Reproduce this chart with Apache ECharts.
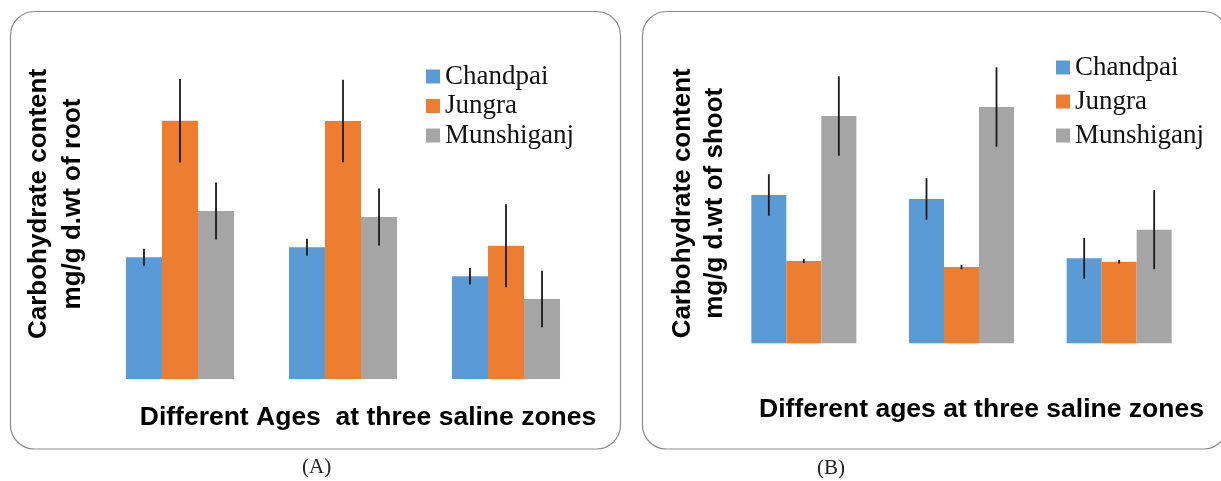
<!DOCTYPE html>
<html>
<head>
<meta charset="utf-8">
<script src="https://cdn.jsdelivr.net/npm/echarts@6/dist/echarts.min.js"></script>
<style>
html,body{margin:0;padding:0;background:#fff;}
#chart{width:1221px;height:481px;}
</style>
</head>
<body>
<div id="chart"></div>
<script>
// ---- data ----
const categories = ['Age 1', 'Age 2', 'Age 3'];
const seriesNames = ['Chandpai', 'Jungra', 'Munshiganj'];
// (A) root carbohydrate
const rootChandpai   = [12.17, 13.17, 10.27];
const rootJungra     = [25.83, 25.80, 13.33];
const rootMunshiganj = [16.80, 16.20, 8.00];
const rootChandpaiErr   = [0.85, 0.85, 0.83];
const rootJungraErr     = [4.17, 4.12, 4.15];
const rootMunshiganjErr = [2.85, 2.85, 2.83];
// (B) shoot carbohydrate
const shootChandpai   = [14.83, 14.43, 8.50];
const shootJungra     = [8.23, 7.63, 8.16];
const shootMunshiganj = [22.73, 23.63, 11.36];
const shootChandpaiErr   = [2.07, 2.08, 2.05];
const shootJungraErr     = [0.20, 0.22, 0.18];
const shootMunshiganjErr = [3.97, 3.97, 3.95];

const colors = ['#5B9BD5', '#ED7D31', '#A5A5A5'];
const GAP_A = 0.337, GAP_B = 0.334;

function errRenderer(idx, gap) {
  return function (params, api) {
    const cat = api.value(0), val = api.value(1), err = api.value(2);
    const band = api.size([1, 0])[0];
    const bw = band * (1 - gap) / 3;
    const c = api.coord([cat, val]);
    const x = c[0] + (idx - 1) * bw;
    const yTop = api.coord([cat, val + err])[1];
    const yBot = api.coord([cat, val - err])[1];
    return {
      type: 'line',
      shape: { x1: x, y1: yTop, x2: x, y2: yBot },
      style: { stroke: '#1a1a1a', lineWidth: 1.8 }
    };
  };
}

const rootVals = [rootChandpai, rootJungra, rootMunshiganj];
const rootErrs = [rootChandpaiErr, rootJungraErr, rootMunshiganjErr];
const shootVals = [shootChandpai, shootJungra, shootMunshiganj];
const shootErrs = [shootChandpaiErr, shootJungraErr, shootMunshiganjErr];

const series = [];
function addPanel(vals, errs, axisIdx, gap) {
  vals.forEach((v, i) => {
    series.push({
      type: 'bar', name: seriesNames[i], data: v,
      xAxisIndex: axisIdx, yAxisIndex: axisIdx,
      barGap: '0%', barCategoryGap: (gap * 100) + '%',
      itemStyle: { color: colors[i] },
      emphasis: { disabled: true }
    });
  });
  vals.forEach((v, i) => {
    series.push({
      type: 'custom', z: 5,
      xAxisIndex: axisIdx, yAxisIndex: axisIdx,
      data: v.map((val, k) => [k, val, errs[i][k]]),
      encode: { x: 0, y: 1 },
      renderItem: errRenderer(i, gap),
      silent: true
    });
  });
}
addPanel(rootVals, rootErrs, 0, GAP_A);
addPanel(shootVals, shootErrs, 1, GAP_B);

const hidden = { axisLine: { show: false }, axisTick: { show: false }, axisLabel: { show: false }, splitLine: { show: false } };
const nameFont = { fontFamily: 'Liberation Sans', fontWeight: 'bold', fontSize: 26, color: '#000' };
const xNameFont = { fontFamily: 'Liberation Sans', fontWeight: 'bold', fontSize: 26.5, color: '#000' };

const chart = echarts.init(document.getElementById('chart'), null, { renderer: 'canvas' });
chart.setOption({
  backgroundColor: '#fff',
  animation: false,
  grid: [
    { left: 98.5, right: 633.5, top: 29, bottom: 102 },
    { left: 725, right: 23, top: 63.3, bottom: 137.7 }
  ],
  xAxis: [
    Object.assign({ type: 'category', data: categories, gridIndex: 0,
      name: 'Different Ages  at three saline zones', nameLocation: 'middle', nameGap: 25,
      nameTextStyle: Object.assign({ padding: [0, 0, 0, 50] }, xNameFont) }, hidden),
    Object.assign({ type: 'category', data: categories, gridIndex: 1,
      name: 'Different ages at three saline zones', nameLocation: 'middle', nameGap: 53,
      nameTextStyle: Object.assign({ padding: [0, 0, 0, 40] }, xNameFont) }, hidden)
  ],
  yAxis: [
    Object.assign({ type: 'value', gridIndex: 0, min: 0, max: 35,
      name: 'Carbohydrate content\nmg/g d.wt of root', nameLocation: 'middle', nameRotate: 90, nameGap: 9,
      nameTextStyle: Object.assign({ lineHeight: 34, align: 'center' }, nameFont) }, hidden),
    Object.assign({ type: 'value', gridIndex: 1, min: 0, max: 28,
      name: 'Carbohydrate content\nmg/g d.wt of shoot', nameLocation: 'middle', nameRotate: 90, nameGap: -6,
      nameTextStyle: Object.assign({ lineHeight: 32, align: 'center' }, nameFont) }, hidden)
  ],
  legend: [
    { data: seriesNames, orient: 'vertical', left: 426, top: 63, padding: 0, itemWidth: 14, itemHeight: 14, itemGap: 2.5,
      icon: 'rect', selectedMode: false,
      textStyle: { fontFamily: 'Liberation Serif', fontSize: 27, color: '#111' } },
    { data: seriesNames, orient: 'vertical', left: 1056, top: 54, padding: 0, itemWidth: 14, itemHeight: 14, itemGap: 7,
      icon: 'rect', selectedMode: false,
      textStyle: { fontFamily: 'Liberation Serif', fontSize: 27, color: '#111' } }
  ],
  graphic: [
    { type: 'rect', silent: true, z: -1,
      shape: { x: 10.5, y: 11.5, width: 610, height: 437.5, r: 24 },
      style: { fill: 'none', stroke: '#8c8c8c', lineWidth: 1.2 } },
    { type: 'rect', silent: true, z: -1,
      shape: { x: 642.5, y: 11.5, width: 585, height: 437.5, r: 24 },
      style: { fill: 'none', stroke: '#8c8c8c', lineWidth: 1.2 } },
    { type: 'text', left: 302, top: 457,
      style: { text: '(A)', fontFamily: 'Liberation Serif', fontSize: 21, fill: '#222' } },
    { type: 'text', left: 817, top: 458,
      style: { text: '(B)', fontFamily: 'Liberation Serif', fontSize: 21, fill: '#222' } }
  ],
  series: series
});
</script>
</body>
</html>
